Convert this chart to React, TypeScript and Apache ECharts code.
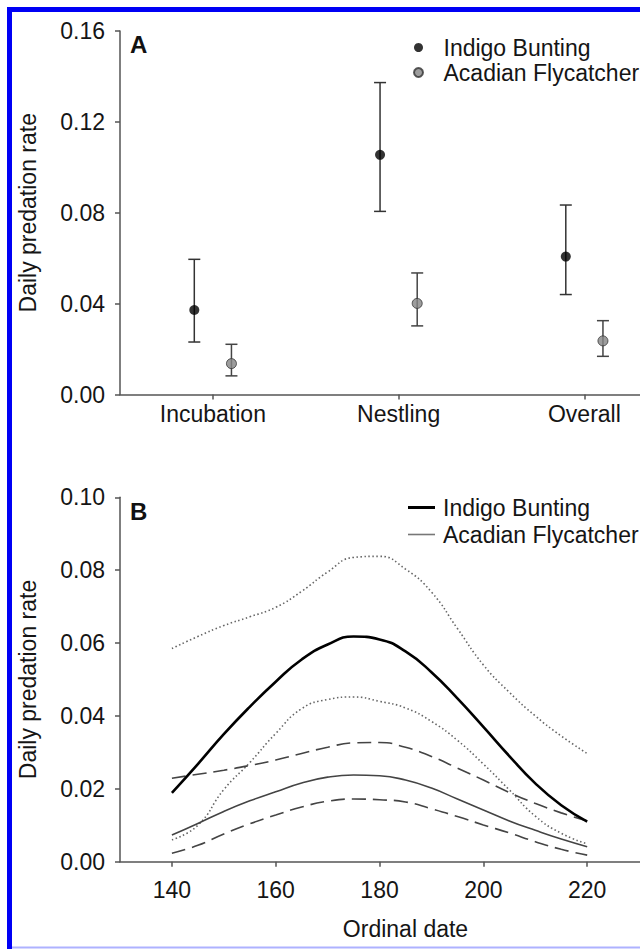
import React, { useEffect, useRef } from 'react';
import * as echarts from 'echarts';

// ---------- Panel A: daily predation rate by nest stage ----------
const stages = ['Incubation', 'Nestling', 'Overall'];
const indigoRate = [0.0372, 0.1055, 0.0607];
const indigoLower = [0.0231, 0.0806, 0.044];
const indigoUpper = [0.0595, 0.1373, 0.0834];
const acadianRate = [0.0136, 0.0401, 0.0236];
const acadianLower = [0.0082, 0.0302, 0.0168];
const acadianUpper = [0.0221, 0.0535, 0.0325];

// ---------- Panel B: daily predation rate over the season ----------
const dates = [140, 145, 150, 155, 160, 165, 170, 175, 180, 185, 190, 195, 200, 205, 210, 215, 220];
const indigoCurve = [0.0189, 0.0268, 0.035, 0.0425, 0.0494, 0.0555, 0.0596, 0.0618, 0.061, 0.0577, 0.052, 0.0448, 0.037, 0.029, 0.0215, 0.0155, 0.011];
const indigoCurveUpper = [0.0585, 0.0618, 0.0648, 0.0672, 0.0698, 0.0742, 0.0795, 0.0835, 0.0838, 0.0803, 0.074, 0.064, 0.054, 0.0465, 0.04, 0.0345, 0.0297];
const indigoCurveLower = [0.006, 0.01, 0.0198, 0.0272, 0.0352, 0.042, 0.0445, 0.0452, 0.044, 0.0422, 0.0385, 0.0333, 0.0268, 0.0197, 0.0125, 0.0078, 0.0049];
const acadianCurve = [0.0073, 0.0105, 0.0138, 0.0167, 0.0192, 0.0216, 0.0232, 0.0238, 0.0236, 0.0224, 0.0202, 0.0172, 0.0142, 0.0112, 0.0086, 0.0062, 0.0041];
const acadianCurveUpper = [0.0229, 0.024, 0.0251, 0.0264, 0.0279, 0.0297, 0.0314, 0.0326, 0.0327, 0.0314, 0.0289, 0.0257, 0.0224, 0.019, 0.016, 0.0134, 0.0112];
const acadianCurveLower = [0.0023, 0.0045, 0.0076, 0.0104, 0.0128, 0.015, 0.0166, 0.0172, 0.017, 0.0164, 0.0145, 0.0124, 0.0101, 0.0079, 0.0055, 0.0034, 0.0018];
const dateTicks = [140, 160, 180, 200, 220];

const FONT = '"Liberation Sans", Arial, sans-serif';
const TEXT = '#151515';
const AXIS = '#555';
const FS = 23;
const DODGE = 0.1;

const pairs = (ys: number[]) => dates.map((d, i) => [d, ys[i]]);

const errorBars = (offset: number, lo: number[], hi: number[], color: string, name: string) => ({
  type: 'custom',
  name,
  xAxisIndex: 1,
  yAxisIndex: 0,
  encode: { x: 0, y: [1, 2] },
  data: stages.map((_, i) => [i + offset, lo[i], hi[i]]),
  z: 2,
  renderItem: (params: any, api: any) => {
    const x = api.value(0);
    const pLo = api.coord([x, api.value(1)]);
    const pHi = api.coord([x, api.value(2)]);
    const w = 6;
    const style = { stroke: color, lineWidth: 1.5 };
    return {
      type: 'group',
      children: [
        { type: 'line', shape: { x1: pLo[0], y1: pLo[1], x2: pHi[0], y2: pHi[1] }, style },
        { type: 'line', shape: { x1: pLo[0] - w, y1: pLo[1], x2: pLo[0] + w, y2: pLo[1] }, style },
        { type: 'line', shape: { x1: pHi[0] - w, y1: pHi[1], x2: pHi[0] + w, y2: pHi[1] }, style },
      ],
    };
  },
});

const axisCommon = {
  axisLine: { show: true, onZero: false, lineStyle: { color: AXIS, width: 1.5 } },
  axisTick: { show: true, inside: false, length: 5, lineStyle: { color: AXIS, width: 1.5 } },
  splitLine: { show: false },
};

const labelStyle = { fontSize: FS, color: TEXT, fontFamily: FONT };

export default function App() {
  const ref = useRef<HTMLDivElement>(null);

  useEffect(() => {
    if (!ref.current) return;
    const chart = echarts.init(ref.current, null, { renderer: 'svg' });
    const option: any = {
      animation: false,
      backgroundColor: '#ffffff',
      textStyle: { fontFamily: FONT, color: TEXT },
      grid: [
        { left: 120, top: 31, width: 557.25, height: 363.5, containLabel: false, outerBoundsMode: 'none' },
        { left: 120, top: 497.3, width: 571, height: 364.4, containLabel: false, outerBoundsMode: 'none' },
      ],
      xAxis: [
        {
          type: 'category',
          gridIndex: 0,
          data: stages,
          boundaryGap: true,
          ...axisCommon,
          axisTick: { ...axisCommon.axisTick, alignWithLabel: true },
          axisLabel: { ...labelStyle, margin: 8 },
        },
        { type: 'value', gridIndex: 0, min: -0.5, max: 2.5, show: false },
        {
          type: 'value',
          gridIndex: 1,
          min: 130,
          max: 240,
          name: 'Ordinal date',
          nameLocation: 'middle',
          nameGap: 56,
          nameTextStyle: labelStyle,
          ...axisCommon,
          axisTick: { ...axisCommon.axisTick, customValues: dateTicks },
          axisLabel: { ...labelStyle, margin: 17, customValues: dateTicks },
        },
      ],
      yAxis: [
        {
          type: 'value',
          gridIndex: 0,
          min: 0,
          max: 0.16,
          interval: 0.04,
          name: 'Daily predation rate',
          nameLocation: 'middle',
          nameGap: 81,
          nameRotate: 90,
          nameTextStyle: labelStyle,
          ...axisCommon,
          axisLabel: { ...labelStyle, margin: 15, formatter: (v: number) => v.toFixed(2) },
        },
        {
          type: 'value',
          gridIndex: 1,
          min: 0,
          max: 0.1,
          interval: 0.02,
          name: 'Daily predation rate',
          nameLocation: 'middle',
          nameGap: 81,
          nameRotate: 90,
          nameTextStyle: labelStyle,
          ...axisCommon,
          axisLabel: { ...labelStyle, margin: 15, formatter: (v: number) => v.toFixed(2) },
        },
      ],
      legend: [
        {
          orient: 'vertical',
          left: 408,
          top: 31,
          itemGap: 2,
          itemWidth: 40,
          itemHeight: 9,
          icon: 'circle',
          data: ['Indigo Bunting', 'Acadian Flycatcher'],
          textStyle: { ...labelStyle, lineHeight: 23 },
          selectedMode: false,
        },
        {
          orient: 'vertical',
          left: 403,
          top: 491,
          itemWidth: 27,
          itemHeight: 3,
          icon: 'rect',
          data: [{ name: 'Indigo Bunting (seasonal)', itemStyle: { color: '#000', borderWidth: 0 } }],
          formatter: () => 'Indigo Bunting',
          textStyle: { ...labelStyle, lineHeight: 23, padding: [0, 0, 0, 3] },
          selectedMode: false,
        },
        {
          orient: 'vertical',
          left: 403,
          top: 518,
          itemWidth: 27,
          itemHeight: 1.6,
          icon: 'rect',
          data: [{ name: 'Acadian Flycatcher (seasonal)', itemStyle: { color: '#777', borderWidth: 0 } }],
          formatter: () => 'Acadian Flycatcher',
          textStyle: { ...labelStyle, lineHeight: 23, padding: [0, 0, 0, 3] },
          selectedMode: false,
        },
      ],
      graphic: [
        {
          type: 'polyline',
          silent: true,
          shape: { points: [[9.5, 952], [9.5, 9.5], [660, 9.5]] },
          style: { stroke: '#0000f5', lineWidth: 5, fill: null },
        },
        {
          type: 'line',
          silent: true,
          shape: { x1: 12, y1: 947.5, x2: 640, y2: 947.5 },
          style: { stroke: '#aeb2ff', lineWidth: 2 },
        },
        {
          type: 'text',
          x: 130,
          y: 32,
          style: { text: 'A', fontSize: 24, fontWeight: 'bold', fontFamily: FONT, fill: '#111', verticalAlign: 'top' },
        },
        {
          type: 'text',
          x: 130,
          y: 499,
          style: { text: 'B', fontSize: 24, fontWeight: 'bold', fontFamily: FONT, fill: '#111', verticalAlign: 'top' },
        },
      ],
      series: [
        errorBars(-DODGE, indigoLower, indigoUpper, '#333', 'Indigo Bunting 95% CI'),
        errorBars(DODGE, acadianLower, acadianUpper, '#444', 'Acadian Flycatcher 95% CI'),
        {
          type: 'scatter',
          name: 'Indigo Bunting',
          xAxisIndex: 1,
          yAxisIndex: 0,
          symbol: 'circle',
          symbolSize: 10,
          z: 3,
          itemStyle: { color: '#000', borderWidth: 0 },
          data: stages.map((_, i) => [i - DODGE, indigoRate[i]]),
        },
        {
          type: 'scatter',
          name: 'Acadian Flycatcher',
          xAxisIndex: 1,
          yAxisIndex: 0,
          symbol: 'circle',
          symbolSize: 10,
          z: 3,
          itemStyle: { color: '#858585', borderColor: '#333', borderWidth: 1 },
          data: stages.map((_, i) => [i + DODGE, acadianRate[i]]),
        },
        {
          type: 'line',
          name: 'Indigo Bunting upper CI',
          xAxisIndex: 2,
          yAxisIndex: 1,
          smooth: 0.5,
          symbol: 'none',
          lineStyle: { color: '#666', width: 1.6, type: [1.5, 2.5] },
          data: pairs(indigoCurveUpper),
        },
        {
          type: 'line',
          name: 'Indigo Bunting lower CI',
          xAxisIndex: 2,
          yAxisIndex: 1,
          smooth: 0.5,
          symbol: 'none',
          lineStyle: { color: '#666', width: 1.6, type: [1.5, 2.5] },
          data: pairs(indigoCurveLower),
        },
        {
          type: 'line',
          name: 'Acadian Flycatcher upper CI',
          xAxisIndex: 2,
          yAxisIndex: 1,
          smooth: 0.5,
          symbol: 'none',
          lineStyle: { color: '#444', width: 1.6, type: [14, 7] },
          data: pairs(acadianCurveUpper),
        },
        {
          type: 'line',
          name: 'Acadian Flycatcher lower CI',
          xAxisIndex: 2,
          yAxisIndex: 1,
          smooth: 0.5,
          symbol: 'none',
          lineStyle: { color: '#444', width: 1.6, type: [14, 7] },
          data: pairs(acadianCurveLower),
        },
        {
          type: 'line',
          name: 'Acadian Flycatcher (seasonal)',
          xAxisIndex: 2,
          yAxisIndex: 1,
          smooth: 0.5,
          symbol: 'none',
          itemStyle: { color: '#777' },
          lineStyle: { color: '#444', width: 1.6 },
          data: pairs(acadianCurve),
        },
        {
          type: 'line',
          name: 'Indigo Bunting (seasonal)',
          xAxisIndex: 2,
          yAxisIndex: 1,
          smooth: 0.5,
          symbol: 'none',
          itemStyle: { color: '#000' },
          lineStyle: { color: '#000', width: 2.6 },
          data: pairs(indigoCurve),
        },
      ],
    };
    chart.setOption(option);
    return () => chart.dispose();
  }, []);

  return (
    <div
      ref={ref}
      style={{ position: 'absolute', left: 0, top: 0, width: 640, height: 949, background: '#fff' }}
    />
  );
}
